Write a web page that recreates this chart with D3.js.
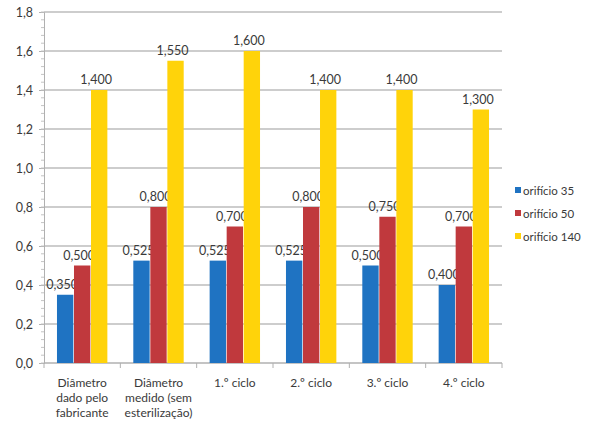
<!DOCTYPE html>
<html>
<head>
<meta charset="utf-8">
<script src="https://cdn.jsdelivr.net/npm/d3@7"></script>
<style>
  body { margin: 0; background: #fff; }
  svg text { font-family: Lato, "Open Sans", sans-serif; fill: #3a3a3a; }
</style>
</head>
<body>
<div id="chart"></div>
<script>
// data
var categories = [
  ["Diâmetro", "dado pelo", "fabricante"],
  ["Diâmetro", "medido (sem", "esterilização)"],
  ["1.º ciclo"],
  ["2.º ciclo"],
  ["3.º ciclo"],
  ["4.º ciclo"]
];
var seriesNames = ["orifício 35", "orifício 50", "orifício 140"];
var orificio35 = [0.350, 0.525, 0.525, 0.525, 0.500, 0.400];
var orificio50 = [0.500, 0.800, 0.700, 0.800, 0.750, 0.700];
var orificio140 = [1.400, 1.550, 1.600, 1.400, 1.400, 1.300];
var yTicks = [0, 0.2, 0.4, 0.6, 0.8, 1.0, 1.2, 1.4, 1.6, 1.8];
var colors = ["#1f73c2", "#c0393d", "#ffd30a"];

var series = [orificio35, orificio50, orificio140];

// set the dimensions and margins of the graph
var margin = {top: 12, right: 87, bottom: 60, left: 44},
    width = 589 - margin.left - margin.right,
    height = 423 - margin.top - margin.bottom;

var svg = d3.select("#chart")
  .append("svg")
    .attr("width", 589)
    .attr("height", 423)
  .append("g")
    .attr("transform", "translate(" + margin.left + "," + margin.top + ")");

var idx = d3.range(categories.length);

var x = d3.scaleBand()
  .domain(idx)
  .range([0, width])
  .paddingInner(0.34)
  .paddingOuter(0.17);

var xs = d3.scaleBand()
  .domain(d3.range(series.length))
  .range([0, x.bandwidth()])
  .paddingInner(0.04);

var y = d3.scaleLinear()
  .domain([0, 1.8])
  .range([height, 0]);

var fmt = function(v) { return d3.format(".3f")(v).replace(".", ","); };

// gridlines
svg.append("g")
  .selectAll("line")
  .data(yTicks.slice(1))
  .enter()
  .append("line")
    .attr("x1", 0)
    .attr("x2", width)
    .attr("y1", function(d) { return y(d); })
    .attr("y2", function(d) { return y(d); })
    .attr("stroke", "#bdbdbd")
    .attr("stroke-width", 1.5);

// Y axis
var yAxis = svg.append("g")
  .call(d3.axisLeft(y).tickValues(yTicks).tickSize(5).tickPadding(6)
    .tickFormat(function(d) { return d3.format(".1f")(d).replace(".", ","); }));
yAxis.select(".domain").attr("stroke", "#b0b0b0");
yAxis.selectAll(".tick line").attr("stroke", "#b0b0b0");
yAxis.selectAll("text").style("font-size", "12.5px").attr("fill", "#3a3a3a");

// minor ticks
svg.append("g")
  .selectAll("line")
  .data(d3.range(0, 1.8001, 0.04))
  .enter()
  .append("line")
    .attr("x1", -3)
    .attr("x2", 0)
    .attr("y1", function(d) { return y(d); })
    .attr("y2", function(d) { return y(d); })
    .attr("stroke", "#c4c4c4");

// X axis
var xAxis = svg.append("g")
  .attr("transform", "translate(0," + height + ")");
xAxis.append("line")
  .attr("x1", 0).attr("x2", width)
  .attr("stroke", "#b0b0b0").attr("stroke-width", 1.5);
xAxis.selectAll("line.tk")
  .data(d3.range(categories.length + 1))
  .enter()
  .append("line")
    .attr("class", "tk")
    .attr("x1", function(d) { return d * width / categories.length; })
    .attr("x2", function(d) { return d * width / categories.length; })
    .attr("y1", 0).attr("y2", 5)
    .attr("stroke", "#b0b0b0");

var catLabels = xAxis.selectAll("text.cat")
  .data(idx)
  .enter()
  .append("text")
    .attr("class", "cat")
    .attr("text-anchor", "middle")
    .attr("x", function(i) { return x(i) + x.bandwidth() / 2; })
    .attr("y", 24)
    .style("font-size", "12px");
catLabels.selectAll("tspan")
  .data(function(i) { return categories[i]; })
  .enter()
  .append("tspan")
    .attr("x", function() { var p = this.parentNode; return p.getAttribute("x"); })
    .attr("dy", function(d, j) { return j === 0 ? 0 : 15; })
    .text(function(d) { return d; });

// Bars and value labels
series.forEach(function(vals, s) {
  var g = svg.append("g");
  g.selectAll("rect")
    .data(idx)
    .enter()
    .append("rect")
      .attr("x", function(i) { return x(i) + xs(s); })
      .attr("width", xs.bandwidth())
      .attr("y", function(i) { return y(vals[i]); })
      .attr("height", function(i) { return height - y(vals[i]); })
      .attr("fill", colors[s]);
  g.selectAll("text")
    .data(idx)
    .enter()
    .append("text")
      .attr("text-anchor", "middle")
      .attr("x", function(i) { return x(i) + xs(s) + xs.bandwidth() / 2 - 3; })
      .attr("y", function(i) { return y(vals[i]) - 6; })
      .style("font-size", "12.5px")
      .text(function(i) { return fmt(vals[i]); });
});

// Legend
var legend = svg.append("g")
  .attr("transform", "translate(" + (width + 13) + ",0)");
seriesNames.forEach(function(name, s) {
  var ly = 179 + s * 23;
  legend.append("rect")
    .attr("x", 0).attr("y", ly - 4)
    .attr("width", 6).attr("height", 6)
    .attr("fill", colors[s]);
  legend.append("text")
    .attr("x", 8).attr("y", ly)
    .attr("dy", "0.35em")
    .style("font-size", "11.5px")
    .text(name);
});
</script>
</body>
</html>
